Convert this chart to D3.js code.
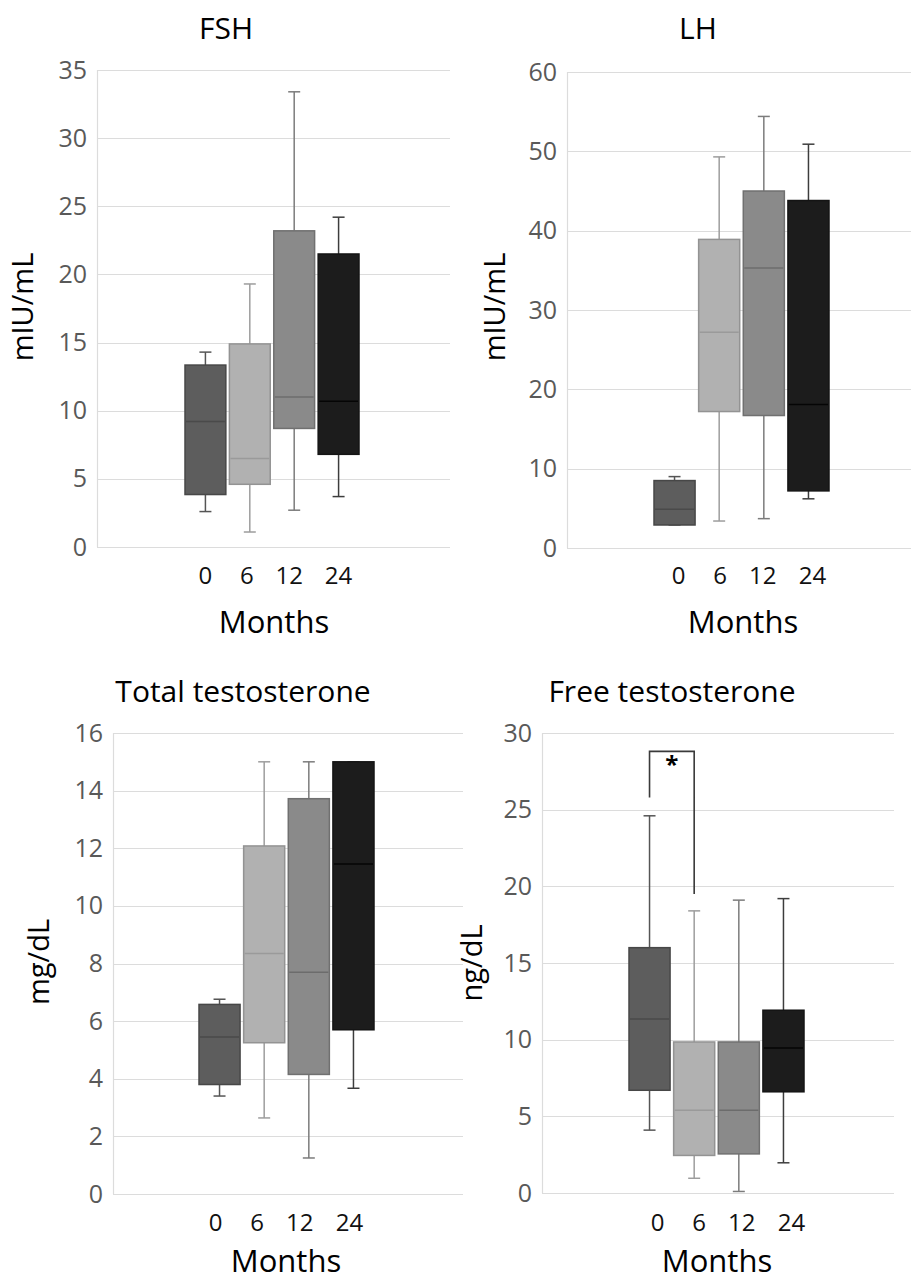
<!DOCTYPE html>
<html>
<head>
<meta charset="utf-8">
<script src="https://cdn.jsdelivr.net/npm/d3@7"></script>
<style>
  body { margin: 0; background: #fff; }
  svg { display: block; font-family: "Open Sans", sans-serif; }
</style>
</head>
<body>
<svg id="chart" width="911" height="1282"></svg>
<script>
// categories (months)
var months = ["0", "6", "12", "24"];

// box stats per month: [min, q1, median, q3, max]
var fsh = [
  [2.6, 3.85, 9.2, 13.35, 14.3],
  [1.1, 4.6, 6.5, 14.9, 19.3],
  [2.7, 8.7, 11.0, 23.2, 33.4],
  [3.7, 6.8, 10.7, 21.5, 24.2]
];
var lh = [
  [2.9, 2.9, 4.9, 8.5, 9.0],
  [3.4, 17.2, 27.2, 38.9, 49.3],
  [3.7, 16.7, 35.3, 45.0, 54.4],
  [6.2, 7.2, 18.1, 43.8, 50.9]
];
var totalT = [
  [3.4, 3.8, 5.45, 6.58, 6.76],
  [2.64, 5.25, 8.35, 12.08, 15.0],
  [1.25, 4.15, 7.7, 13.72, 15.0],
  [3.67, 5.7, 11.45, 15.0, 15.0]
];
var freeT = [
  [4.1, 6.7, 11.35, 16.0, 24.6],
  [0.96, 2.45, 5.4, 9.85, 18.4],
  [0.1, 2.55, 5.4, 9.85, 19.1],
  [1.97, 6.6, 9.45, 11.92, 19.2]
];

// significance bracket on free testosterone (0 vs 6 months)
var bracket = { from: "0", to: "6", top: 28.8, leftEnd: 25.8, rightEnd: 19.5, label: "*" };

var fills = ["#5d5d5d", "#b1b1b1", "#8a8a8a", "#1c1c1c"],
    strokes = ["#474747", "#939393", "#707070", "#141414"],
    whiskers = ["#555555", "#9d9d9d", "#7c7c7c", "#3d3d3d"],
    medians = ["#4a4a4a", "#9a9a9a", "#6c6c6c", "#050505"];

// month labels sit a little unevenly (one spaced string in the original)
var labelSpread = [2, -1, -3, 2];

var panels = [
  { data: fsh, name: "FSH", unit: "mIU/mL", max: 35, step: 5,
    left: 97, right: 450, top: 70, bottom: 547, band: [185, 359], labelShift: -2,
    titleX: 226, titleY: 28, unitX: 23, unitY: 307, xlabY: 576, monthsX: 274, monthsY: 622 },
  { data: lh, name: "LH", unit: "mIU/mL", max: 60, step: 10,
    left: 567, right: 914, top: 72, bottom: 548, band: [654, 829], labelShift: 2,
    titleX: 698, titleY: 28, unitX: 495, unitY: 307, xlabY: 576, monthsX: 743, monthsY: 622 },
  { data: totalT, name: "Total testosterone", unit: "mg/dL", max: 16, step: 2,
    left: 113, right: 463, top: 733, bottom: 1194, band: [199, 374], labelShift: -6,
    titleX: 243, titleY: 691, unitX: 39, unitY: 962, xlabY: 1223, monthsX: 286, monthsY: 1261 },
  { data: freeT, name: "Free testosterone", unit: "ng/dL", max: 30, step: 5,
    left: 542, right: 894, top: 733, bottom: 1193, band: [629, 804], labelShift: 6,
    titleX: 672, titleY: 691, unitX: 472, unitY: 963, xlabY: 1223, monthsX: 717, monthsY: 1261,
    bracket: bracket }
];

var svg = d3.select("#chart");

panels.forEach(function(p) {
  var g = svg.append("g");

  var y = d3.scaleLinear().domain([0, p.max]).range([p.bottom, p.top]);
  var x = d3.scaleBand().domain(months).range(p.band).paddingInner(0.08).paddingOuter(0);
  var ticks = d3.range(0, p.max + p.step / 2, p.step);

  // gridlines
  g.append("g")
    .selectAll("line")
    .data(ticks)
    .enter().append("line")
      .attr("x1", p.left)
      .attr("x2", p.right)
      .attr("y1", function(d) { return Math.round(y(d)) + 0.5; })
      .attr("y2", function(d) { return Math.round(y(d)) + 0.5; })
      .attr("stroke", "#dcdcdc")
      .attr("stroke-width", 1.2);

  // left axis line
  g.append("line")
    .attr("x1", p.left + 0.5).attr("x2", p.left + 0.5)
    .attr("y1", y(p.max)).attr("y2", y(0))
    .attr("stroke", "#dcdcdc")
    .attr("stroke-width", 1.2);

  // y tick labels
  var yAxis = d3.axisLeft(y).tickValues(ticks).tickSize(0).tickPadding(10);
  var ya = g.append("g")
    .attr("transform", "translate(" + p.left + ",0)")
    .call(yAxis);
  ya.select(".domain").remove();
  ya.selectAll("text")
    .attr("font-size", 25)
    .attr("font-family", "Open Sans, sans-serif")
    .attr("fill", "#595959");

  // boxes
  var box = g.selectAll(".box")
    .data(p.data)
    .enter().append("g")
      .attr("class", "box");

  var cx = function(d, i) { return x(months[i]) + x.bandwidth() / 2; };

  // whiskers
  box.append("line")
    .attr("x1", cx).attr("x2", cx)
    .attr("y1", function(d) { return y(d[4]); })
    .attr("y2", function(d) { return y(d[3]); })
    .attr("stroke", function(d, i) { return whiskers[i]; })
    .attr("stroke-width", 1.5);
  box.append("line")
    .attr("x1", cx).attr("x2", cx)
    .attr("y1", function(d) { return y(d[1]); })
    .attr("y2", function(d) { return y(d[0]); })
    .attr("stroke", function(d, i) { return whiskers[i]; })
    .attr("stroke-width", 1.5);
  box.append("line")
    .attr("x1", function(d, i) { return cx(d, i) - 6; })
    .attr("x2", function(d, i) { return cx(d, i) + 6; })
    .attr("y1", function(d) { return y(d[4]); })
    .attr("y2", function(d) { return y(d[4]); })
    .attr("stroke", function(d, i) { return whiskers[i]; })
    .attr("stroke-width", 1.5);
  box.append("line")
    .attr("x1", function(d, i) { return cx(d, i) - 6; })
    .attr("x2", function(d, i) { return cx(d, i) + 6; })
    .attr("y1", function(d) { return y(d[0]); })
    .attr("y2", function(d) { return y(d[0]); })
    .attr("stroke", function(d, i) { return whiskers[i]; })
    .attr("stroke-width", 1.5);

  box.append("rect")
    .attr("x", function(d, i) { return x(months[i]); })
    .attr("y", function(d) { return y(d[3]); })
    .attr("width", x.bandwidth())
    .attr("height", function(d) { return y(d[1]) - y(d[3]); })
    .attr("fill", function(d, i) { return fills[i]; })
    .attr("stroke", function(d, i) { return strokes[i]; })
    .attr("stroke-width", 1.5);

  box.append("line")
    .attr("x1", function(d, i) { return x(months[i]) + 1; })
    .attr("x2", function(d, i) { return x(months[i]) + x.bandwidth() - 1; })
    .attr("y1", function(d) { return y(d[2]); })
    .attr("y2", function(d) { return y(d[2]); })
    .attr("stroke", function(d, i) { return medians[i]; })
    .attr("stroke-width", 1.5);

  // x labels
  g.append("g")
    .selectAll("text")
    .data(months)
    .enter().append("text")
      .attr("x", function(d, i) { return x(d) + x.bandwidth() / 2 + p.labelShift + labelSpread[i]; })
      .attr("y", p.xlabY)
      .attr("dy", "0.35em")
      .attr("text-anchor", "middle")
      .attr("font-size", 24)
      .attr("fill", "#111")
      .text(function(d) { return d; });

  // titles
  g.append("text")
    .attr("x", p.titleX)
    .attr("y", p.titleY)
    .attr("dy", "0.35em")
    .attr("text-anchor", "middle")
    .attr("font-size", 30)
    .attr("fill", "#000")
    .text(p.name);

  g.append("text")
    .attr("transform", "translate(" + p.unitX + "," + p.unitY + ") rotate(-90)")
    .attr("dy", "0.35em")
    .attr("text-anchor", "middle")
    .attr("font-size", 29)
    .attr("fill", "#000")
    .text(p.unit);

  g.append("text")
    .attr("x", p.monthsX)
    .attr("y", p.monthsY)
    .attr("dy", "0.35em")
    .attr("text-anchor", "middle")
    .attr("font-size", 31)
    .attr("fill", "#000")
    .text("Months");

  if (p.bracket) {
    var b = p.bracket,
        bx1 = x(b.from) + x.bandwidth() / 2,
        bx2 = x(b.to) + x.bandwidth() / 2;
    g.append("path")
      .attr("d", "M" + bx1 + "," + y(b.leftEnd) + "V" + y(b.top) + "H" + bx2 + "V" + y(b.rightEnd))
      .attr("fill", "none")
      .attr("stroke", "#3a3a3a")
      .attr("stroke-width", 1.6);
    g.append("text")
      .attr("x", (bx1 + bx2) / 2)
      .attr("y", y(b.top) + 22)
      .attr("text-anchor", "middle")
      .attr("font-size", 24)
      .attr("font-weight", "bold")
      .attr("fill", "#000")
      .text(b.label);
  }
});
</script>
</body>
</html>
